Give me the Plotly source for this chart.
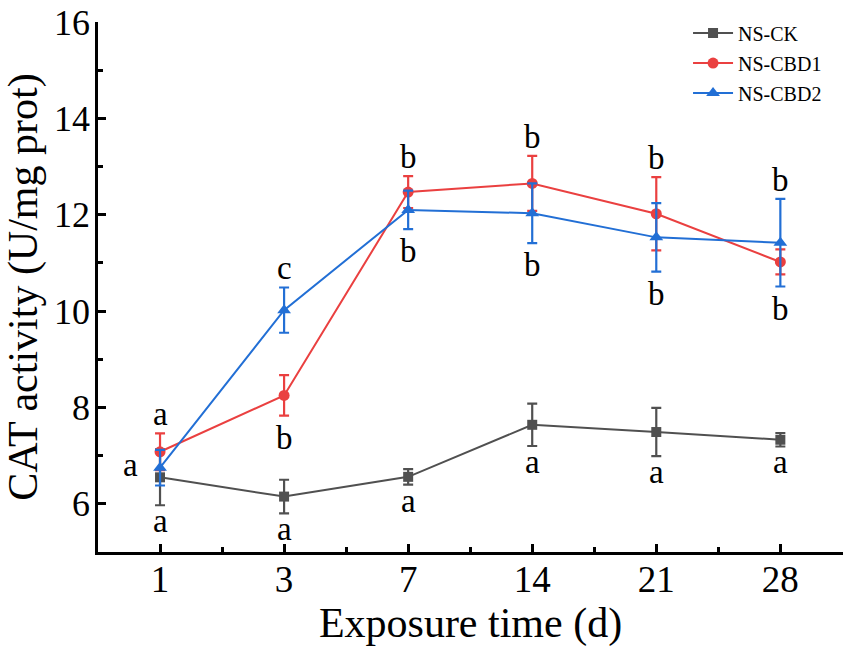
import plotly.graph_objects as go

# exposure days (categories)
days = ["1", "3", "7", "14", "21", "28"]

# CAT activity (U/mg prot), mean and error
ck = [6.55, 6.15, 6.56, 7.64, 7.49, 7.33]
ck_err = [0.58, 0.35, 0.16, 0.44, 0.50, 0.14]
cbd1 = [7.08, 8.25, 12.47, 12.65, 12.02, 11.02]
cbd1_err = [0.38, 0.42, 0.33, 0.57, 0.76, 0.26]
cbd2 = [6.75, 10.02, 12.10, 12.03, 11.53, 11.42]
cbd2_err = [0.37, 0.47, 0.40, 0.62, 0.71, 0.91]

# significance letters
ck_sig = ["a", "a", "a", "a", "a", "a"]
cbd1_sig = ["a", "b", "b", "b", "b", "b"]
cbd2_sig = ["a", "c", "b", "b", "b", "b"]

# where each letter sits relative to the group at that day
cbd1_side = ["above", "below", "above", "above", "above", "below"]
cbd2_side = ["left", "above", "below", "below", "below", "above"]

FONT = "Liberation Serif, Times New Roman, serif"
GREY = "rgb(80,80,80)"
RED = "rgb(234,64,64)"
BLUE = "rgb(34,111,213)"

xpos = list(range(len(days)))

fig = go.Figure()

series = [
    ("NS-CK", ck, ck_err, GREY, "square", 10),
    ("NS-CBD1", cbd1, cbd1_err, RED, "circle", 11),
    ("NS-CBD2", cbd2, cbd2_err, BLUE, "triangle-up", 12),
]
for i, (name, vals, errs, col, sym, sz) in enumerate(series):
    fig.add_trace(go.Scatter(
        x=xpos, y=vals, name=name, mode="lines+markers",
        line=dict(color=col, width=2),
        marker=dict(symbol=sym, size=sz, color=col),
        error_y=dict(type="data", array=errs, color=col, thickness=2.2, width=5),
        legendgroup=name,
    ))

tops = [max(a + ea, b + eb) for a, ea, b, eb in zip(cbd1, cbd1_err, cbd2, cbd2_err)]
bots = [min(a - ea, b - eb) for a, ea, b, eb in zip(cbd1, cbd1_err, cbd2, cbd2_err)]

annots = []
def letter(x, y, txt, yanchor="middle", xanchor="center", xshift=0, yshift=0):
    annots.append(dict(x=x, y=y, text=txt, showarrow=False, xref="x", yref="y",
                       xanchor=xanchor, yanchor=yanchor, xshift=xshift, yshift=yshift,
                       font=dict(family=FONT, size=33, color="black")))

for i in xpos:
    letter(i, ck[i] - ck_err[i], ck_sig[i], yanchor="top", yshift=4)
    for sig, side, vals in [(cbd1_sig, cbd1_side, cbd1), (cbd2_sig, cbd2_side, cbd2)]:
        if side[i] == "above":
            letter(i, tops[i], sig[i], yanchor="bottom", yshift=-1)
        elif side[i] == "below":
            letter(i, bots[i], sig[i], yanchor="top", yshift=-2)
        else:
            letter(i, vals[i], sig[i], xanchor="right", xshift=-20, yshift=3)

fig.update_layout(
    width=851, height=657,
    margin=dict(l=98, r=8, t=22, b=105, autoexpand=False),
    paper_bgcolor="white", plot_bgcolor="white",
    font=dict(family=FONT, color="black"),
    annotations=annots,
    showlegend=True,
    legend=dict(x=0.792, y=1.016, xanchor="left", yanchor="top",
                font=dict(family=FONT, size=20, color="black"),
                bgcolor="rgba(0,0,0,0)", tracegroupgap=1, itemwidth=40),
    xaxis=dict(
        range=[-0.5, 5.505], tickmode="array", tickvals=xpos, ticktext=days,
        showline=True, linecolor="black", linewidth=2.5, mirror=False,
        ticks="inside", ticklen=8, tickwidth=2.5, tickcolor="black",
        minor=dict(tickmode="linear", tick0=0.5, dtick=1, ticks="inside",
                   ticklen=5, tickwidth=2.5, tickcolor="black"),
        showgrid=False, zeroline=False, automargin=False,
        ticklabelstandoff=-7, ticklabeloverflow="allow",
        tickfont=dict(family=FONT, size=37, color="black"),
        title=dict(text="Exposure time (d)", font=dict(family=FONT, size=42, color="black"),
                   standoff=6),
    ),
    yaxis=dict(
        range=[5, 16], tickmode="linear", tick0=6, dtick=2,
        showline=True, linecolor="black", linewidth=2.5,
        ticks="inside", ticklen=8, tickwidth=2.5, tickcolor="black",
        minor=dict(tickmode="linear", tick0=5, dtick=1, ticks="inside",
                   ticklen=5, tickwidth=2.5, tickcolor="black"),
        showgrid=False, zeroline=False, automargin=False,
        ticklabelstandoff=-2, ticklabeloverflow="allow",
        tickfont=dict(family=FONT, size=36, color="black"),
        title=dict(text="CAT activity (U/mg prot)", font=dict(family=FONT, size=42, color="black"),
                   standoff=6),
    ),
)

# drop the default page margin so the figure sits at the window's corner
fig.write_html("out.html", config={"displayModeBar": False},
               post_script="document.body.style.margin='0';")
